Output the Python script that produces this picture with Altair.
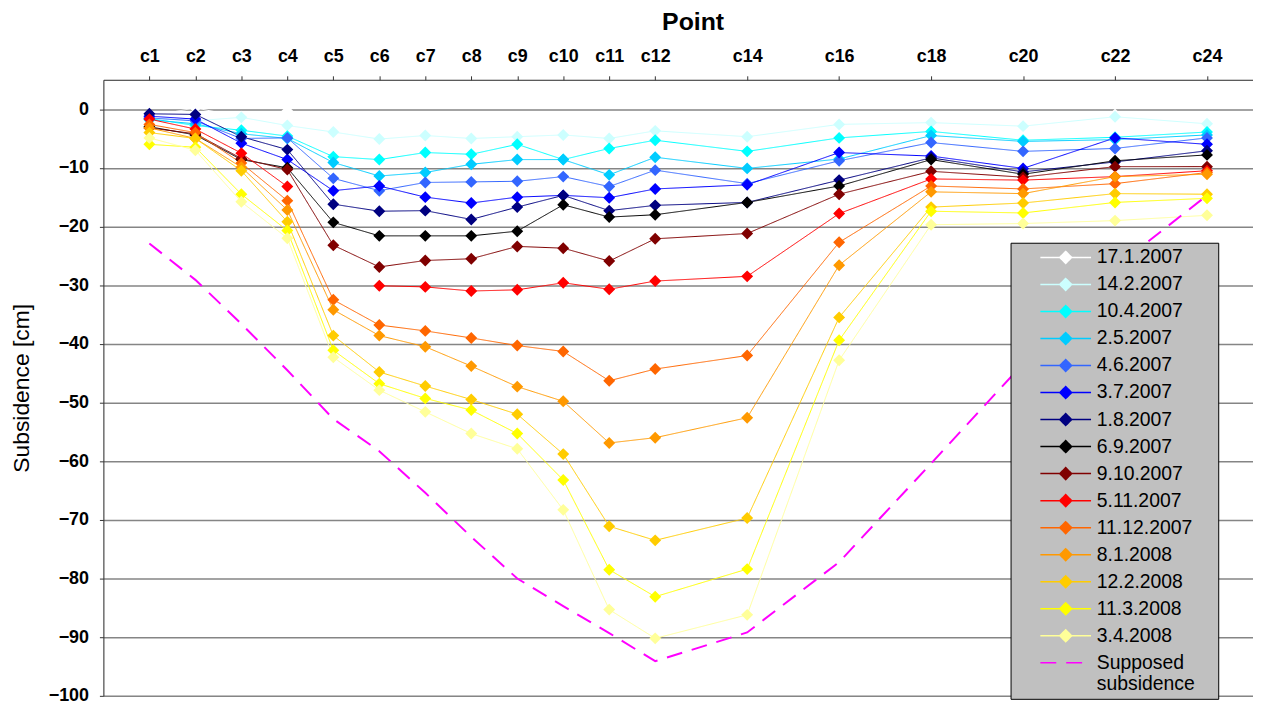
import altair as alt
import pandas as pd

# ---------------- data ----------------
POINT_LABELS = ["c1", "c2", "c3", "c4", "c5", "c6", "c7", "c8", "c9", "c10",
                "c11", "c12", "c14", "c16", "c18", "c20", "c22", "c24"]
POINT_NUMS = [1, 2, 3, 4, 5, 6, 7, 8, 9, 10, 11, 12, 14, 16, 18, 20, 22, 24]

SERIES_NAMES = ["17.1.2007", "14.2.2007", "10.4.2007", "2.5.2007", "4.6.2007",
                "3.7.2007", "1.8.2007", "6.9.2007", "9.10.2007", "5.11.2007",
                "11.12.2007", "8.1.2008", "12.2.2008", "11.3.2008", "3.4.2008"]
SERIES_COLORS = ["#ffffff", "#ccffff", "#00ffff", "#00ccff", "#3366ff",
                 "#0000ff", "#000080", "#000000", "#800000", "#ff0000",
                 "#ff6600", "#ff9900", "#ffcc00", "#ffff00", "#ffff99"]

v_17_1_2007 = [-1.2, 0.2, -1.3, -0.3, -2.2, -1.5, -1.6, -2.0, -2.2, -2.0, -2.2, -1.7, -2.2, -1.8, -1.9, -1.9, -0.9, -1.6]
v_14_2_2007 = [-1.5, -2.0, -1.4, -2.8, -3.9, -5.1, -4.5, -5.0, -4.7, -4.4, -5.0, -3.7, -4.7, -2.6, -2.3, -2.9, -1.3, -2.5]
v_10_4_2007 = [-1.6, -2.8, -3.6, -4.6, -8.1, -8.6, -7.4, -7.7, -6.0, -8.6, -6.7, -5.3, -7.2, -4.9, -3.8, -5.3, -4.8, -3.9]
v_2_5_2007 = [-1.8, -2.5, -4.2, -5.0, -9.1, -11.4, -10.8, -9.4, -8.6, -8.6, -11.2, -8.2, -10.1, -8.5, -4.5, -5.5, -5.2, -4.4]
v_4_6_2007 = [-1.5, -2.0, -5.0, -4.9, -11.8, -13.9, -12.5, -12.4, -12.3, -11.5, -13.2, -10.4, -12.7, -8.8, -5.7, -7.2, -6.7, -4.9]
v_3_7_2007 = [-1.2, -1.7, -5.8, -8.6, -13.9, -13.1, -15.0, -16.0, -15.0, -14.7, -15.1, -13.6, -12.9, -7.4, -8.0, -10.1, -4.9, -6.0]
v_1_8_2007 = [-0.8, -0.9, -4.7, -6.9, -16.2, -17.4, -17.3, -18.8, -16.7, -14.7, -17.3, -16.4, -15.9, -12.1, -8.3, -10.7, -9.0, -7.1]
v_6_9_2007 = [-3.0, -4.4, -8.6, -10.0, -19.3, -21.6, -21.6, -21.6, -20.8, -16.3, -18.4, -18.0, -15.9, -13.1, -8.6, -11.1, -8.8, -7.8]
v_9_10_2007 = [-3.2, -4.2, -8.4, -10.3, -23.2, -26.9, -25.8, -25.5, -23.4, -23.7, -25.9, -22.1, -21.2, -14.5, -10.6, -11.6, -9.8, -9.8]
v_5_11_2007 = [-1.7, -3.4, -7.5, -13.2, None, -30.1, -30.3, -31.0, -30.8, -29.6, -30.7, -29.3, -28.5, -17.8, -11.9, -12.1, -11.5, -10.5]
v_11_12_2007 = [-2.6, -4.0, -9.2, -15.6, -32.5, -36.8, -37.8, -39.0, -40.3, -41.3, -46.3, -44.3, -42.0, -22.7, -13.1, -13.6, -12.7, -10.8]
v_8_1_2008 = [-3.2, -5.0, -9.9, -17.2, -34.2, -38.6, -40.5, -43.8, -47.3, -49.8, -56.9, -56.0, -52.6, -26.6, -14.1, -14.4, -11.5, -11.1]
v_12_2_2008 = [-4.0, -5.0, -10.5, -19.2, -38.6, -44.8, -47.2, -49.5, -52.0, -58.8, -71.1, -73.5, -69.7, -35.5, -16.7, -16.0, -14.4, -14.5]
v_11_3_2008 = [-6.0, -6.5, -14.5, -20.7, -41.1, -46.8, -49.3, -51.3, -55.3, -63.2, -78.5, -83.1, -78.4, -39.4, -17.4, -17.7, -15.9, -15.2]
v_3_4_2008 = [-4.9, -7.0, -15.8, -22.0, -42.3, -47.9, -51.6, -55.3, -57.9, -68.3, -85.3, -90.2, -86.2, -42.8, -19.7, -19.5, -19.0, -18.1]

SUPPOSED_NAME = "Supposed subsidence"
SUPPOSED_COLOR = "#ff00ff"
v_supposed = [-22.9, -29.1, -36.6, -44.5, -52.8, -58.3, -65.4, -72.9, -80.0, -84.7, -89.3, -94.1, -89.2, -77.2, -60.4, -43.4, -27.0, -14.7]

SERIES_VALUES = [v_17_1_2007, v_14_2_2007, v_10_4_2007, v_2_5_2007, v_4_6_2007,
                 v_3_7_2007, v_1_8_2007, v_6_9_2007, v_9_10_2007, v_5_11_2007,
                 v_11_12_2007, v_8_1_2008, v_12_2_2008, v_11_3_2008, v_3_4_2008]

Y_TICKS = [0, -10, -20, -30, -40, -50, -60, -70, -80, -90, -100]

# ---------------- tables ----------------
rows = []
for name, vals in zip(SERIES_NAMES, SERIES_VALUES):
    seg = 0
    for num, lab, v in zip(POINT_NUMS, POINT_LABELS, vals):
        if v is None:
            seg += 1
            continue
        rows.append({"series": name, "num": num, "point": lab, "value": v,
                     "seg": f"{name}-{seg}"})
df = pd.DataFrame(rows)

sup_df = pd.DataFrame({"series": SUPPOSED_NAME, "num": POINT_NUMS,
                       "point": POINT_LABELS, "value": v_supposed})

ALL_NAMES = SERIES_NAMES + [SUPPOSED_NAME]
ALL_COLORS = SERIES_COLORS + [SUPPOSED_COLOR]

DIAMOND_WITH_LINE = "M-4.25,0H4.25M0,-1L1,0L0,1L-1,0Z"
LINE_ONLY = "M-4.25,0H4.25"

stroke_scale = alt.Scale(domain=ALL_NAMES, range=ALL_COLORS)
fill_scale = alt.Scale(domain=ALL_NAMES, range=SERIES_COLORS + ["transparent"])
dash_scale = alt.Scale(domain=ALL_NAMES, range=[[1, 0]] * len(SERIES_NAMES) + [[16, 10]])
shape_scale = alt.Scale(domain=ALL_NAMES, range=[DIAMOND_WITH_LINE] * len(SERIES_NAMES) + [LINE_ONLY])

FONT = "Liberation Sans"
PLOT_BG = "#c0c0c0"

legend = alt.Legend(
    orient="none", legendX=913, legendY=164, direction="vertical",
    # an invisible spacer title on the right widens the box like the reference
    title="-", titleOrient="right", titleColor=PLOT_BG, titleFontSize=10,
    titlePadding=15, titleAnchor="start",
    fillColor=PLOT_BG, strokeColor="#000000", padding=5,
    labelFont=FONT, labelFontSize=19.5, labelColor="#000000", labelLimit=400,
    labelExpr="datum.label == 'Supposed subsidence' ? ['Supposed', 'subsidence'] : datum.label",
    symbolSize=144, symbolStrokeWidth=1.5, symbolOffset=40.75, labelOffset=21.5,
    rowPadding=6.2,
)

x_enc = alt.X("num:Q", scale=alt.Scale(domain=[0, 25], nice=False, zero=False),
              axis=alt.Axis(orient="top", values=POINT_NUMS, labelExpr="'c' + datum.value",
                            grid=False, title="Point", labelFont=FONT, labelFontSize=18,
                            labelFontWeight="bold", labelColor="#000000", labelPadding=14,
                            labelBaseline="alphabetic", labelFlush=False, labelOverlap=False,
                            tickSize=4, tickColor="#333333", domainColor="#333333",
                            titleFont=FONT, titleFontSize=25, titleFontWeight="bold",
                            titleColor="#000000", titleX=593, titleY=-51,
                            titleBaseline="alphabetic", titleAlign="center"))
y_enc = alt.Y("value:Q", scale=alt.Scale(domain=[-100, 5], nice=False, zero=False),
              axis=alt.Axis(values=Y_TICKS, grid=True, gridColor="#858585", gridWidth=1.5,
                            title="Subsidence [cm]", labelFont=FONT, labelFontSize=18,
                            labelFontWeight="bold", labelColor="#000000", labelPadding=11,
                            tickSize=4, tickColor="#333333", domainColor="#333333",
                            titleFont=FONT, titleFontSize=23, titleFontWeight="normal",
                            titleColor="#000000", titleX=-82, titleY=310,
                            titleBaseline="middle", titleAlign="center", titleAngle=270))

lines = alt.Chart(df).mark_line(strokeWidth=1).encode(
    x=x_enc, y=y_enc,
    stroke=alt.Stroke("series:N", scale=stroke_scale, legend=legend),
    strokeDash=alt.StrokeDash("series:N", scale=dash_scale),
    detail="seg:N",
)

points = alt.Chart(df).mark_point(filled=True, size=144, strokeWidth=0, opacity=1).encode(
    x=x_enc, y=y_enc,
    fill=alt.Fill("series:N", scale=fill_scale),
    shape=alt.Shape("series:N", scale=shape_scale),
)

supposed = alt.Chart(sup_df).mark_line(strokeWidth=2).encode(
    x=x_enc, y=y_enc,
    stroke=alt.Stroke("series:N", scale=stroke_scale),
    strokeDash=alt.StrokeDash("series:N", scale=dash_scale),
)

chart = alt.layer(lines, points, supposed).properties(
    width=1157, height=620,
    autosize=alt.AutoSizeParams(type="none"),
    padding={"left": 96, "top": 70, "right": 0, "bottom": 12},
).configure_view(fill=PLOT_BG, stroke="transparent").configure(background="#ffffff")

chart.save("out.html", embed_options={"renderer": "svg", "actions": False})
